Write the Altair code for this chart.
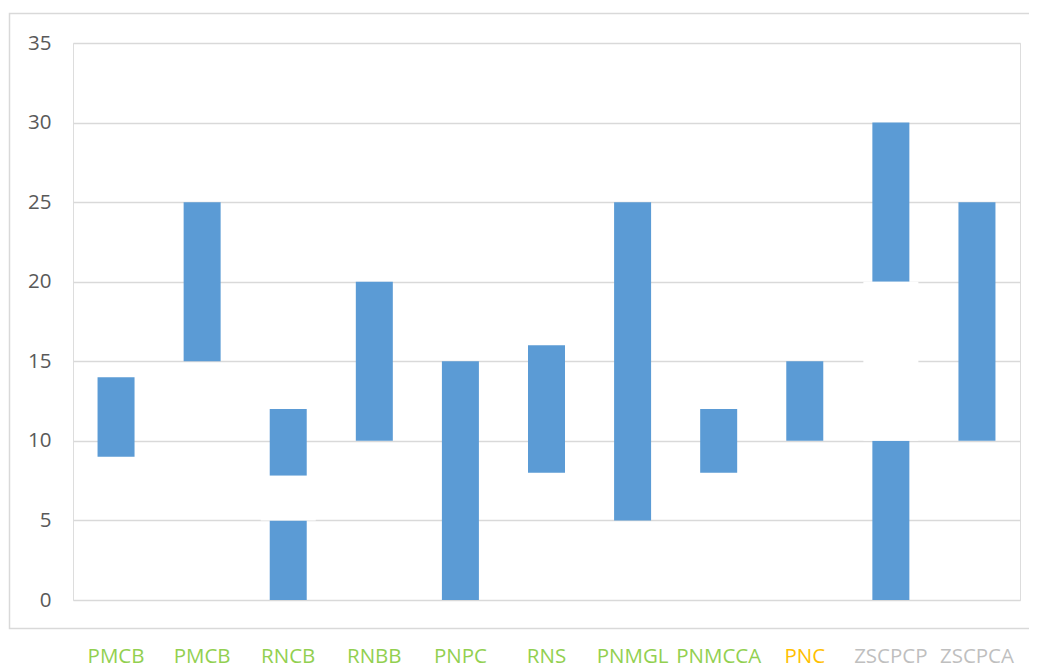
import altair as alt
import pandas as pd

# Categories (unique keys, displayed labels, label colour group)
keys = ["c01", "c02", "c03", "c04", "c05", "c06", "c07", "c08", "c09", "c10", "c11"]
labels = ["PMCB", "PMCB", "RNCB", "RNBB", "PNPC", "RNS", "PNMGL", "PNMCCA", "PNC", "ZSCPCP", "ZSCPCA"]
label_groups = ["green", "green", "green", "green", "green", "green", "green", "green", "orange", "gray", "gray"]

# Blue floating segments
seg_keys = ["c01", "c02", "c03", "c03", "c04", "c05", "c06", "c07", "c08", "c09", "c10", "c10", "c11"]
seg_low = [9, 15, 0, 7.8, 10, 0, 8, 5, 8, 10, 0, 20, 10]
seg_high = [14, 25, 5, 12, 20, 15, 16, 25, 12, 15, 10, 30, 25]

# White gap segments
gap_keys = ["c03", "c10"]
gap_low = [5, 10]
gap_high = [7.8, 20]

y_ticks = [0, 5, 10, 15, 20, 25, 30, 35]

FONT = "Open Sans"

bars_df = pd.DataFrame({"key": seg_keys, "lo": seg_low, "hi": seg_high})
gaps_df = pd.DataFrame({"key": gap_keys, "lo": gap_low, "hi": gap_high})
lab_df = pd.DataFrame({"key": keys, "label": labels, "group": label_groups})

x_scale = alt.Scale(domain=keys, paddingInner=0, paddingOuter=0)
y_scale = alt.Scale(domain=[0, 35], nice=False, zero=True)

x_enc = alt.X("key:N", scale=x_scale, axis=None, sort=keys)

blue = alt.Chart(bars_df).mark_bar(size=37, color="#5b9bd5").encode(
    x=x_enc,
    y=alt.Y("lo:Q", scale=y_scale,
            axis=alt.Axis(values=y_ticks, grid=True, gridColor="#d9d9d9", gridWidth=1.5,
                          domain=False, ticks=False, labelPadding=22,
                          labelFont=FONT, labelFontSize=20.5, labelColor="#595959",
                          title=None)),
    y2="hi:Q",
)

white = alt.Chart(gaps_df).mark_bar(size=55, color="#ffffff").encode(
    x=x_enc,
    y=alt.Y("lo:Q", scale=y_scale),
    y2="hi:Q",
)

text = alt.Chart(lab_df).mark_text(font=FONT, fontSize=20.5, baseline="middle", align="center").encode(
    x=x_enc,
    y=alt.value(614),
    text="label:N",
    color=alt.Color("group:N",
                    scale=alt.Scale(domain=["green", "orange", "gray"],
                                    range=["#92d050", "#ffc000", "#bfbfbf"]),
                    legend=None),
)

border = alt.Chart(pd.DataFrame({"a": [0]})).mark_rect(
    filled=False, stroke="#d9d9d9", strokeWidth=1.5
).encode(
    x=alt.value(-63.5), x2=alt.value(1100), y=alt.value(-29.5), y2=alt.value(585.5)
)

chart = alt.layer(border, blue, white, text).properties(
    width=947, height=557,
    autosize=alt.AutoSizeParams(type="none"),
    padding={"left": 65, "top": 35, "right": 9, "bottom": 68},
).configure_view(strokeWidth=0, stroke="transparent").configure(background="white")

chart.save("out.html", embed_options={"renderer": "svg", "actions": False})
